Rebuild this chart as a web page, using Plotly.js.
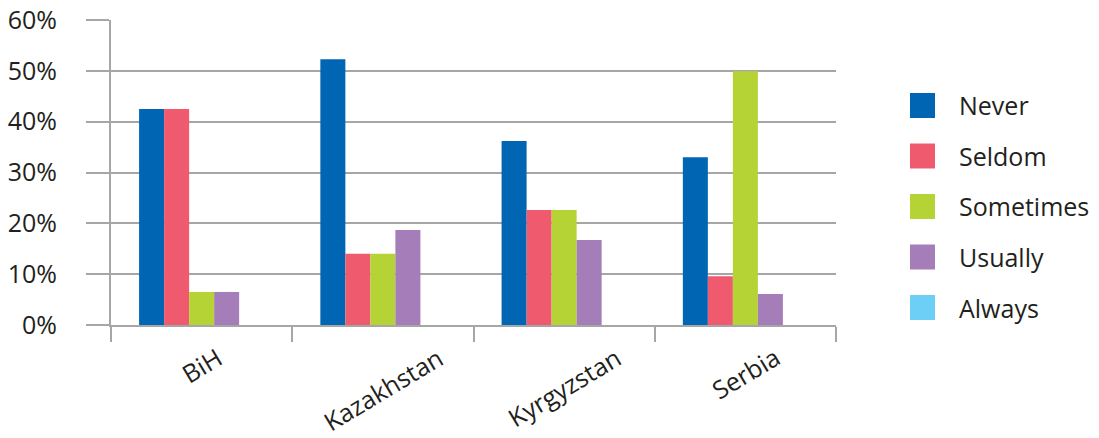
<!DOCTYPE html>
<html>
<head>
<meta charset="utf-8">
<script src="https://cdn.plot.ly/plotly-3.0.1.min.js"></script>
<style>
html,body{margin:0;padding:0;background:#fff;}
#chart{width:1099px;height:438px;}
</style>
</head>
<body>
<div id="chart"></div>
<script>
// ---- data ----
var categories = ["BiH", "Kazakhstan", "Kyrgyzstan", "Serbia"];
var seriesNames = ["Never", "Seldom", "Sometimes", "Usually", "Always"];
var never     = [42.5, 52.3, 36.2, 33.0];
var seldom    = [42.5, 14.0, 22.6,  9.6];
var sometimes = [ 6.5, 14.0, 22.6, 49.9];
var usually   = [ 6.5, 18.7, 16.7,  6.1];
var always    = [ 0,    0,    0,    0  ];
var yTickVals = [0, 10, 20, 30, 40, 50, 60];

// ---- style ----
var colors = ["#0066B3", "#F05A6E", "#B5D334", "#A57DB8", "#6DCFF6"];
var FONT = "Open Sans, Noto Sans, sans-serif";
var TXT = "#231F20";
var GRID = "#A6A6A6";
var W = 1099, H = 438;
var M = {l: 111, r: 263, t: 20, b: 113};
var plotW = W - M.l - M.r, plotH = H - M.t - M.b;
function px2paperX(px){ return (px - M.l) / plotW; }
function px2paperY(py){ return (H - M.b - py) / plotH; }

var seriesValues = [never, seldom, sometimes, usually, always];
var traces = seriesValues.map(function(vals, i){
  return {
    type: "bar",
    name: seriesNames[i],
    x: categories,
    y: vals,
    marker: {color: colors[i], line: {width: 0}},
    showlegend: false,
    hoverinfo: "x+y+name"
  };
});

// custom legend (large square swatches)
var shapes = [], annotations = [];
var legX0 = 910, legSize = 25, legTop = 105.5, legStep = 50.5, legTextX = 957;
seriesNames.forEach(function(name, i){
  var cy = legTop + i * legStep;
  shapes.push({
    type: "rect", xref: "paper", yref: "paper",
    x0: px2paperX(legX0), x1: px2paperX(legX0 + legSize),
    y0: px2paperY(cy - legSize/2), y1: px2paperY(cy + legSize/2),
    fillcolor: colors[i], line: {width: 0}
  });
  annotations.push({
    xref: "paper", yref: "paper",
    x: px2paperX(legTextX), y: px2paperY(cy),
    xanchor: "left", yanchor: "middle",
    text: name, showarrow: false,
    font: {family: FONT, size: 25, color: TXT}
  });
});

// rotated category labels, centred on each category
categories.forEach(function(c){
  annotations.push({
    xref: "x", yref: "paper",
    x: c, y: px2paperY(337),
    xanchor: "center", yanchor: "top",
    text: c, showarrow: false, textangle: -31,
    font: {family: FONT, size: 25, color: TXT}
  });
});

var layout = {
  width: W, height: H,
  margin: M,
  paper_bgcolor: "#fff", plot_bgcolor: "#fff",
  font: {family: FONT, size: 25, color: TXT},
  barmode: "group",
  bargap: 0.31,
  bargroupgap: 0,
  showlegend: false,
  xaxis: {
    type: "category",
    showticklabels: false,
    tickson: "boundaries",
    ticks: "outside", ticklen: 15, tickwidth: 2, tickcolor: GRID,
    showline: true, linecolor: GRID, linewidth: 2,
    showgrid: false, zeroline: false,
    range: [-0.5, 3.5]
  },
  yaxis: {
    range: [0, 60],
    tickvals: yTickVals,
    ticktext: yTickVals.map(function(v){ return v + "%"; }),
    ticks: "outside", ticklen: 23, tickwidth: 2, tickcolor: GRID,
    ticklabelstandoff: 24,
    showline: true, linecolor: GRID, linewidth: 2,
    showgrid: true, gridcolor: GRID, gridwidth: 2,
    zeroline: false,
    tickfont: {family: FONT, size: 25, color: TXT}
  },
  shapes: shapes,
  annotations: annotations
};

Plotly.newPlot("chart", traces, layout, {displayModeBar: false, staticPlot: true});
</script>
</body>
</html>
